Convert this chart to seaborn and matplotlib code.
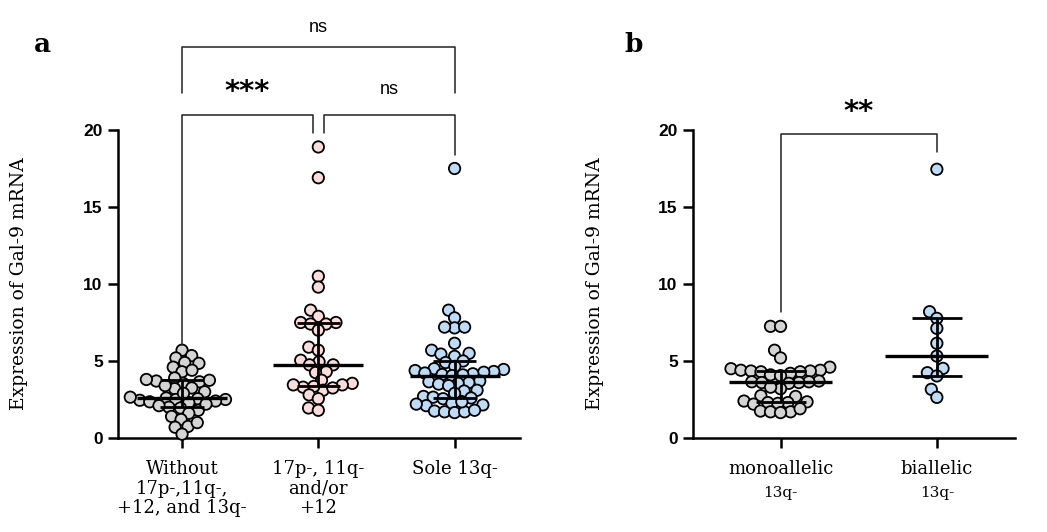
import numpy as np
import pandas as pd
import matplotlib
matplotlib.use("Agg")
import matplotlib.pyplot as plt
import matplotlib.transforms as mtransforms
from matplotlib.collections import PathCollection
import seaborn as sns

# ---------------- data ----------------
groups_a = ["Without\n17p-,11q-,\n+12, and 13q-", "17p-, 11q-\nand/or\n+12", "Sole 13q-"]
without_vals = [5.7, 5.2, 5.35, 4.9, 4.6, 4.85, 4.3, 4.4, 3.55, 3.65, 3.7, 3.9, 3.8, 3.75,
                3.25, 3.2, 3.0, 2.6, 2.5, 2.45, 2.35, 2.55, 2.4, 2.5, 2.65, 2.3, 2.0, 1.95,
                2.1, 1.8, 1.6, 1.4, 1.2, 0.7, 0.75, 1.0, 0.25, 3.4, 2.9, 2.2]
del_vals = [18.9, 16.9, 10.5, 9.8, 8.3, 7.9, 7.5, 7.4, 7.5, 7.4, 7.0, 5.9, 5.7, 4.95, 5.05,
            4.75, 4.75, 4.3, 4.25, 3.75, 3.55, 3.45, 3.1, 3.25, 3.35, 3.3, 3.45, 2.8, 2.55,
            1.95, 1.8]
sole_vals = [17.5, 8.3, 7.8, 7.15, 7.2, 7.2, 6.15, 5.7, 5.5, 5.45, 5.3, 5.0, 4.9, 4.65, 4.5,
             4.45, 4.38, 4.32, 4.27, 4.22, 4.17, 4.12, 4.1, 4.05, 3.7, 3.65, 3.6, 3.55, 3.5,
             3.4, 3.1, 3.05, 2.9, 2.7, 2.65, 2.6, 2.55, 2.15, 2.1, 2.2, 2.25, 1.75, 1.7, 1.65,
             1.7, 1.8, 2.35]

groups_b = ["monoallelic", "biallelic"]
sub_b = "13q-"
mono_vals = [7.25, 7.25, 5.7, 5.2, 4.6, 4.5, 4.4, 4.4, 4.35, 4.35, 4.3, 4.3, 4.2, 4.1, 4.05,
             3.7, 3.65, 3.65, 3.6, 3.6, 3.55, 3.2, 3.3, 2.75, 2.7, 2.4, 2.35, 2.3, 2.3, 2.25,
             2.2, 1.75, 1.7, 1.7, 1.65, 1.9]
bi_vals = [17.45, 8.2, 7.77, 7.12, 6.15, 5.32, 4.52, 4.24, 4.03, 3.16, 2.64]

colors_a = ["#d4d4d4", "#fddcdc", "#bedcf7"]
colors_b = ["#d4d4d4", "#bedcf7"]

ylabel = "Expression of Gal-9 mRNA"

# ---------------- style ----------------
sns.set_style("ticks")
plt.rcParams.update({
    "font.family": ["DejaVu Serif"],
    "text.color": "black",
    "axes.labelcolor": "black",
    "axes.edgecolor": "black",
    "xtick.color": "black",
    "ytick.color": "black",
})

fig = plt.figure(figsize=(10.47, 5.32), dpi=100)
W, H = 1047, 532
def ax_rect(l, r, t, b):
    return [l / W, 1 - b / H, (r - l) / W, (b - t) / H]

axa = fig.add_axes(ax_rect(118, 520, 130, 438))
axb = fig.add_axes(ax_rect(693, 1015, 130, 438))

SWARM_SIZE = 5.6   # packing size (points overlap a little, as in the reference)
MARKER_SIZE = 8.2  # drawn size

def draw_panel(ax, cats, vals_list, colors):
    df = pd.DataFrame({
        "group": np.concatenate([[c] * len(v) for c, v in zip(cats, vals_list)]),
        "value": np.concatenate([np.asarray(v, float) for v in vals_list]),
    })
    sns.swarmplot(data=df, x="group", y="value", hue="group", order=cats, hue_order=cats,
                  palette=colors, size=SWARM_SIZE, linewidth=1.3, edgecolor="black",
                  legend=False, ax=ax, zorder=3, warn_thresh=1.0)
    for coll in ax.collections:
        coll.set_clip_on(False)
    for i, v in enumerate(vals_list):
        v = np.asarray(v, float)
        q1, med, q3 = np.percentile(v, [25, 50, 75], method="weibull")
        ax.hlines(med, i - 0.33, i + 0.33, color="black", lw=2.4, zorder=5, clip_on=False)
        ax.vlines(i, q1, q3, color="black", lw=2.0, zorder=5, clip_on=False)
        ax.hlines([q1, q3], i - 0.16, i + 0.16, color="black", lw=2.0, zorder=5, clip_on=False)
    ax.set_ylim(0, 20)
    ax.set_yticks([0, 5, 10, 15, 20])
    ax.set_xlabel("")
    ax.set_ylabel(ylabel, fontsize=13.5, family="DejaVu Serif")
    for s in ["top", "right"]:
        ax.spines[s].set_visible(False)
    for s in ["left", "bottom"]:
        ax.spines[s].set_linewidth(1.8)
    ax.tick_params(axis="y", direction="out", length=7, width=1.8, pad=4)
    ax.tick_params(axis="x", direction="out", length=7, width=1.8, pad=9)
    for lab in ax.get_yticklabels():
        lab.set_fontfamily("Liberation Sans")
        lab.set_fontweight("bold")
        lab.set_fontsize(12.5)

draw_panel(axa, groups_a, [without_vals, del_vals, sole_vals], colors_a)
draw_panel(axb, groups_b, [mono_vals, bi_vals], colors_b)

axa.set_xlim(-0.47, 2.48)
axb.set_xlim(-0.56, 1.5)

axa.set_xticks(range(len(groups_a)))
axa.set_xticklabels(groups_a, fontsize=13, family="DejaVu Serif", linespacing=1.1)
axb.set_xticks(range(len(groups_b)))
axb.set_xticklabels(groups_b, fontsize=13, family="DejaVu Serif")
trans_b = mtransforms.blended_transform_factory(axb.transData, axb.transAxes)
for i in range(len(groups_b)):
    axb.text(i, -0.18, sub_b, transform=trans_b, ha="center", va="center",
             fontsize=11, family="DejaVu Serif")

axa.yaxis.set_label_coords(-0.225, 0.5)
axb.yaxis.set_label_coords(-0.275, 0.5)

# ---------------- significance brackets ----------------
def ypx(p):  # pixel row -> data value
    return (438 - p) / 15.4

bk = dict(color="#222222", lw=1.1, clip_on=False, zorder=6)
axa.plot([0, 0, 2, 2], [ypx(93), ypx(47), ypx(47), ypx(93)], **bk)
axa.text(1.0, ypx(27), "ns", ha="center", va="center", fontsize=13, family="Liberation Sans")
axa.plot([0, 0, 0.96, 0.96], [ypx(345), ypx(115), ypx(115), ypx(133)], **bk)
axa.text(0.48, ypx(92), "***", ha="center", va="center", fontsize=21,
         family="DejaVu Sans", fontweight="bold")
axa.plot([1.04, 1.04, 2, 2], [ypx(133), ypx(115), ypx(115), ypx(155)], **bk)
axa.text(1.52, ypx(90), "ns", ha="center", va="center", fontsize=13, family="Liberation Sans")
axb.plot([0, 0, 1, 1], [ypx(312), ypx(134), ypx(134), ypx(152)], **bk)
axb.text(0.5, ypx(112), "**", ha="center", va="center", fontsize=21,
         family="DejaVu Sans", fontweight="bold")

fig.text(34 / W, 1 - 45 / H, "a", fontsize=19, fontweight="bold", family="DejaVu Serif",
         ha="left", va="center")
fig.text(624 / W, 1 - 45 / H, "b", fontsize=19, fontweight="bold", family="DejaVu Serif",
         ha="left", va="center")

# compute the swarm layout once, then freeze it and enlarge the markers
fig.canvas.draw()
for ax in (axa, axb):
    for coll in ax.collections:
        if isinstance(coll, PathCollection):
            if "draw" in coll.__dict__:
                del coll.draw
            coll.set_sizes([MARKER_SIZE ** 2])

fig.savefig("out.png", dpi=100)
